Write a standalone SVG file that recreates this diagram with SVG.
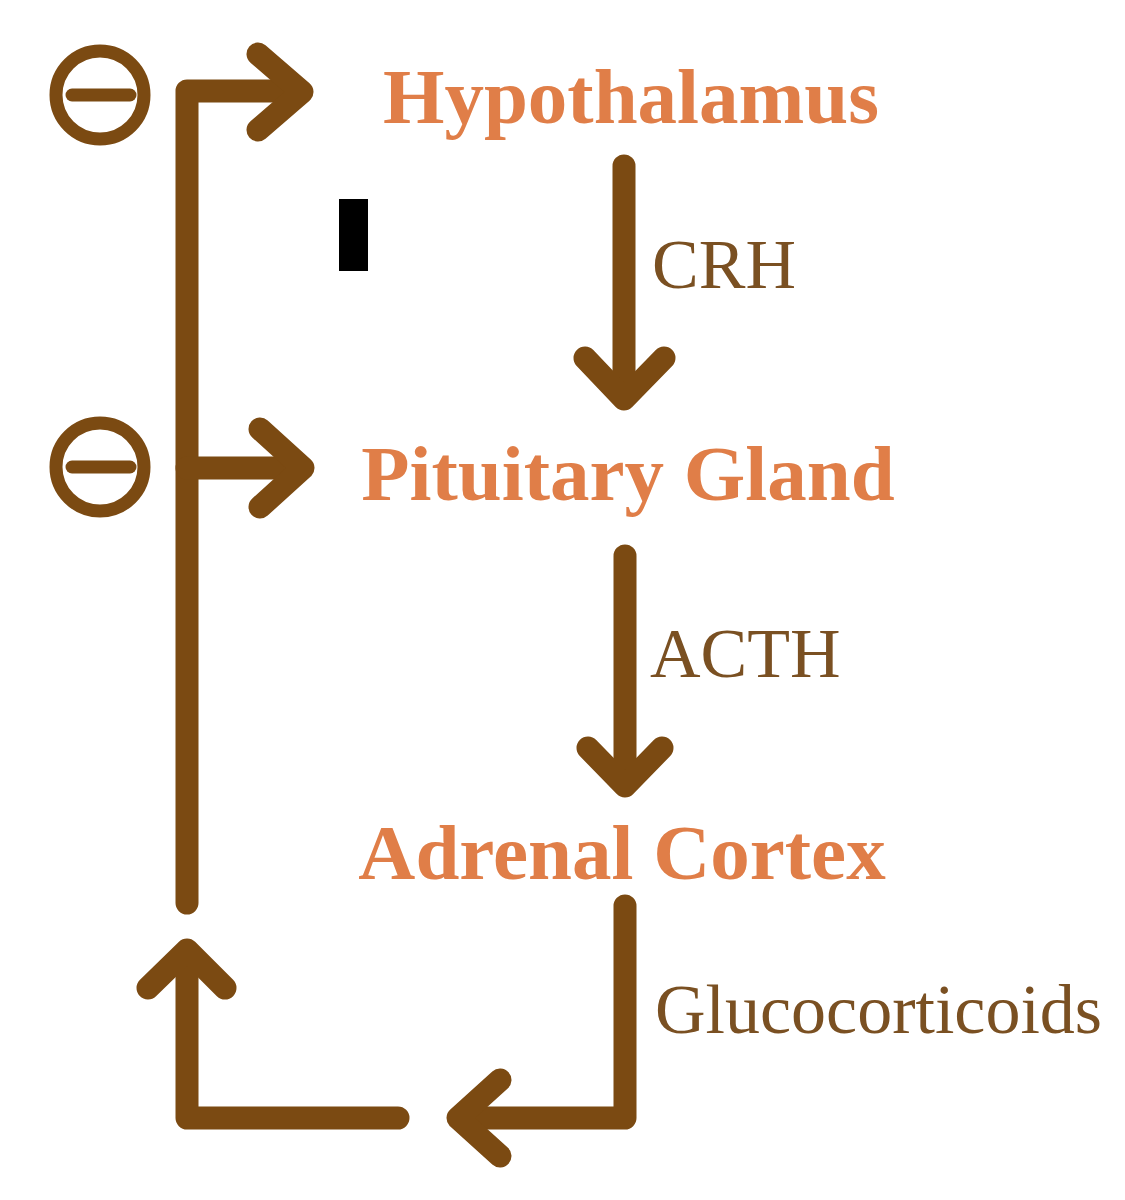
<svg xmlns="http://www.w3.org/2000/svg" width="1125" height="1200" viewBox="0 0 1125 1200">
<style>
.ln{fill:none;stroke:#7B4A12;stroke-width:23;stroke-linecap:round;stroke-linejoin:round}
.node{font-family:"Liberation Serif",serif;font-weight:bold;font-size:79px;fill:#E07E48;text-anchor:middle}
.lbl{font-family:"Liberation Serif",serif;font-size:70px;fill:#7A5022}
.neg{fill:none;stroke:#7B4A12;stroke-width:13}
</style>
<rect width="1125" height="1200" fill="#ffffff"/>
<g id="connectors">
<path class="ln" d="M187,903 V91 H296"/>
<path class="ln" d="M258,54 L302,92 L258,130"/>
<path class="ln" d="M187,468 H296"/>
<path class="ln" d="M260,429 L303,468 L260,507"/>
<path class="ln" d="M624,166 V392"/>
<path class="ln" d="M585,358 L624,399 L664,358"/>
<path class="ln" d="M625,556 V780"/>
<path class="ln" d="M588,748 L625,786 L662,748"/>
<path class="ln" d="M625,906 V1118 H462"/>
<path class="ln" d="M500,1080 L458,1118 L500,1156"/>
<path class="ln" d="M398,1118 H187 V955"/>
<path class="ln" d="M148,988 L187,950 L225,988"/>
</g>
<g id="inhibit-top">
<circle class="neg" cx="100" cy="95" r="44"/>
<line x1="72" y1="95" x2="130" y2="95" stroke="#7B4A12" stroke-width="13" stroke-linecap="round"/>
</g>
<g id="inhibit-mid">
<circle class="neg" cx="100" cy="467" r="44"/>
<line x1="72" y1="467" x2="130" y2="467" stroke="#7B4A12" stroke-width="13" stroke-linecap="round"/>
</g>
<rect x="339" y="199" width="29" height="72" fill="#000000"/>
<g id="hypothalamus"><text class="node" x="631" y="123">Hypothalamus</text></g>
<g id="pituitary"><text class="node" x="628" y="500">Pituitary Gland</text></g>
<g id="adrenal"><text class="node" x="622" y="879">Adrenal Cortex</text></g>
<g id="labels">
<text class="lbl" x="652" y="288">CRH</text>
<text class="lbl" x="650" y="677">ACTH</text>
<text class="lbl" x="655" y="1033">Glucocorticoids</text>
</g>
</svg>
